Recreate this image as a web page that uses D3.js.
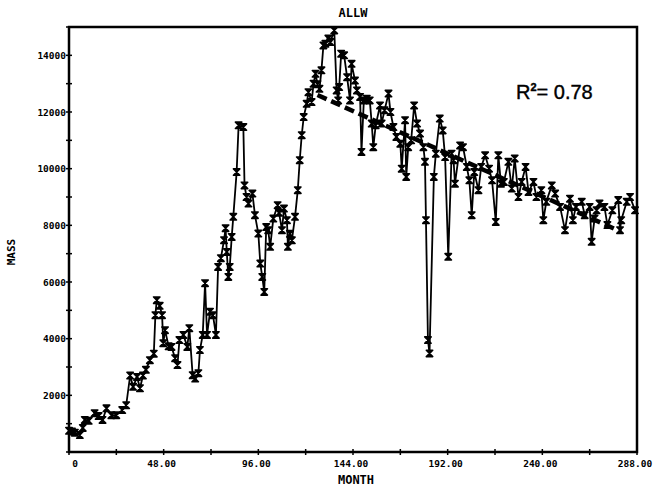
<!DOCTYPE html>
<html><head><meta charset="utf-8">
<script src="https://cdn.jsdelivr.net/npm/d3@7"></script>
<style>body{margin:0;background:#fff}svg{display:block}</style>
</head><body>
<svg id="c" width="658" height="492"></svg>
<script>
// ---- data ----
const months = [0,1.5,3,5.5,7,8,10,13,15,17,19,21.5,24,27,29,31,32.5,34.5,36,37.5,39,41,43,43.8,44.5,46,47.2,47.8,48.7,50.5,52,53.8,55,56,58,60,61,62.7,64,65.6,66.4,67.8,69,70,71.5,73,74.5,75.6,77,78.6,79.4,80,80.8,81.5,82.5,83.3,85,86,88.4,89,90,91,93,94.3,96,97,98,99,100,101,102,103.6,105.8,106.5,108,109,110.5,111,112,113,114.6,116,117,118,119,120.5,121.4,123,124,125,126,127,128,129,130,131.5,132.5,134.5,135.7,136.5,137,138,139.5,141,142.5,143.3,145,146,147.6,148.3,149.5,151,152.5,153.5,154.3,155.5,157.7,158.5,160,162,163,164.5,166,168,168.7,170.4,171,172,173.5,175,176.5,178,179.7,180.5,181,182,182.8,185,186,188,189.5,190.7,192.3,194,195,195.7,198.3,199.8,201.7,203,204.2,205.5,207.6,209,211,213,214.5,216.4,217.7,219,220.5,222.8,224.5,226,227.9,229.5,231.5,233,235.5,237,239.5,240.5,242,244.8,246.5,249,251.5,254,255.5,257,260,261.5,264,265,266.5,267.5,269,271.5,273,275.5,278.5,279.4,280,282.8,284.5,287];
const mass = [750,720,680,600,850,1130,1100,1370,1270,1130,1540,1300,1300,1480,1650,2700,2300,2650,2250,2700,2900,3240,3470,4830,5360,5160,4830,3840,4300,3730,3710,3310,3070,3950,4130,3710,4370,2710,2590,2780,3600,4130,5960,4130,4950,4830,4130,6530,6840,7475,7900,7060,6180,6530,7590,8300,9880,11530,11470,9410,9000,8770,9120,8360,7710,6650,6180,5650,7940,7830,7240,8240,8710,8440,7830,8590,8180,7240,7700,7470,8300,9240,10300,11180,11820,12290,12700,12350,13000,13350,12980,12820,13470,14350,14410,14590,14470,14880,12760,12410,12880,14060,14000,13230,12410,13700,13110,12760,12530,10590,12410,12470,12410,11590,10760,11530,12230,11590,12060,12650,12000,11470,11120,10880,10000,11710,9710,10760,11000,12230,11590,11240,10760,10240,8180,3950,3480,9710,10530,11770,11350,10410,6890,10530,10300,9470,10820,10760,10060,9590,8360,9880,9240,10060,10470,10000,9590,8120,10470,9470,9530,10240,9300,10360,9000,9530,10060,9180,9530,9000,9240,8180,8830,9410,9120,8650,7830,8940,8180,8650,8830,8360,8650,7420,8240,8530,8770,8650,8010,8530,8890,7830,8180,8830,9000,8530];
const trendMonths = [126, 280];
const trendMass = [12600, 7770];
const xTickValues = [0, 48, 96, 144, 192, 240, 288];
const xTickLabels = ["0", "48.00", "96.00", "144.00", "192.00", "240.00", "288.00"];
const yTickValues = [2000, 4000, 6000, 8000, 10000, 12000, 14000];
const yTickLabels = ["2000", "4000", "6000", "8000", "10000", "12000", "14000"];
const titleText = "ALLW", xTitle = "MONTH", yTitle = "MASS";

// ---- chart ----
const svg = d3.select("#c");
const L = 69, R = 637, T = 27, B = 452;
const x = d3.scaleLinear().domain([0, 288]).range([L, R]);
const y = d3.scaleLinear().domain([0, 15000]).range([B, T]);
const mono = "'DejaVu Sans Mono', monospace";

// frame
svg.append("rect").attr("x", L).attr("y", T).attr("width", R - L).attr("height", B - T)
  .attr("fill", "none").attr("stroke", "#000").attr("stroke-width", 2.5);

// ticks crossing axes
const g = svg.append("g");
g.selectAll(".yt").data(d3.range(0, 15001, 1000)).join("line")
  .attr("x1", L - 3).attr("x2", L + 3).attr("y1", d => y(d)).attr("y2", d => y(d))
  .attr("stroke", "#000").attr("stroke-width", 1.5);
g.selectAll(".xt").data(d3.range(0, 289, 24)).join("line")
  .attr("y1", B - 3).attr("y2", B + 3).attr("x1", d => x(d)).attr("x2", d => x(d))
  .attr("stroke", "#000").attr("stroke-width", 1.5);

// labels
g.selectAll(".yl").data(yTickValues).join("text")
  .attr("x", L - 3).attr("y", d => y(d) + 3.5).attr("text-anchor", "end")
  .attr("font-family", mono).attr("font-weight", "bold").attr("font-size", 9.5)
  .text((d, i) => yTickLabels[i]);
g.selectAll(".xl").data(xTickValues).join("text")
  .attr("x", (d, i) => i === 0 ? x(d) + 6 : x(d) - 2).attr("y", B + 15).attr("text-anchor", "middle")
  .attr("font-family", mono).attr("font-weight", "bold").attr("font-size", 9.5)
  .text((d, i) => xTickLabels[i]);

svg.append("text").attr("x", 353).attr("y", 17).attr("text-anchor", "middle")
  .attr("font-family", mono).attr("font-weight", "bold").attr("font-size", 12).text(titleText);
svg.append("text").attr("x", 356).attr("y", 484).attr("text-anchor", "middle")
  .attr("font-family", mono).attr("font-weight", "bold").attr("font-size", 12).text(xTitle);
svg.append("text").attr("transform", "translate(15,252) rotate(-90)").attr("text-anchor", "middle")
  .attr("font-family", mono).attr("font-weight", "bold").attr("font-size", 11).text(yTitle);

// trend line
const trend = trendMonths.map((m, i) => [m, trendMass[i]]);
svg.append("path").datum(trend)
  .attr("d", d3.line().x(d => x(d[0])).y(d => y(d[1])))
  .attr("stroke", "#000").attr("stroke-width", 4.5).attr("stroke-dasharray", "10,5").attr("fill", "none");

// series
const pts = months.map((m, i) => [m, mass[i]]);
svg.append("path").datum(pts)
  .attr("d", d3.line().x(d => x(d[0])).y(d => y(d[1])))
  .attr("stroke", "#000").attr("stroke-width", 1.8).attr("fill", "none");
const s = 3.2;
svg.append("g").selectAll("path").data(pts).join("path")
  .attr("transform", d => `translate(${x(d[0])},${y(d[1])})`)
  .attr("d", `M${-s},${-s}L${s},${-s}L${-s},${s}L${s},${s}Z`)
  .attr("fill", "#000").attr("stroke", "#000").attr("stroke-width", 1.6).attr("stroke-linejoin", "round");

// R^2 annotation
const r2 = svg.append("text").attr("x", 516).attr("y", 99)
  .attr("font-family", "'Liberation Sans', Arial, sans-serif").attr("font-size", 20)
  .attr("stroke", "#000").attr("stroke-width", 0.4);
r2.append("tspan").text("R");
r2.append("tspan").attr("font-size", 11).attr("font-weight", "bold").attr("dy", -8).text("2");
r2.append("tspan").attr("dy", 8).text("= 0.78");
</script>
</body></html>
